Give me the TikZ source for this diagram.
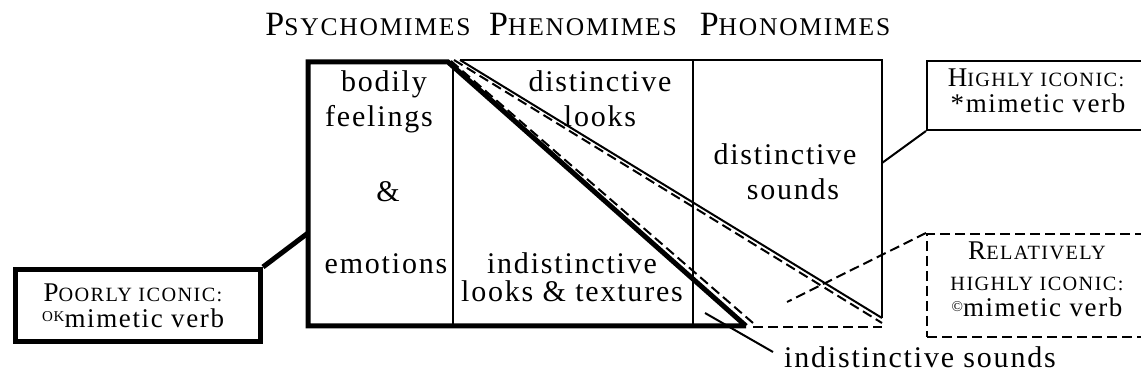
\documentclass[tikz,border=0pt]{standalone}
\usepackage{fontspec}
\setmainfont[LetterSpace=6]{Liberation Serif}
\newfontfamily\scf[Scale=0.75,LetterSpace=7]{Liberation Serif}
\newcommand\fsc[2]{#1{\scf #2}}
\begin{document}
\begin{tikzpicture}[x=0.5pt,y=-0.5pt,
  txt/.style={font=\fontsize{15pt}{18pt}\selectfont, inner sep=0pt, anchor=base},
  boxtxt/.style={font=\fontsize{13.5pt}{16pt}\selectfont, inner sep=0pt, anchor=base},
  hdr/.style={font=\fontsize{17pt}{20pt}\selectfont, inner sep=0pt, anchor=base},
  thick line/.style={line width=2.5pt, line join=miter},
  thin line/.style={line width=1pt},
  dash line/.style={line width=1pt, dash pattern=on 5pt off 2.5pt},
  boxshape/.style={rectangle, inner sep=0pt, anchor=north west}]
\useasboundingbox (0,0) rectangle (1141,383);
\clip (0,0) rectangle (1141,383);

% corner coordinates of the chart
\coordinate (TL) at (308,62);
\coordinate (BL) at (308,326);
\coordinate (O) at (448,62);
\coordinate (A) at (746,326);
\coordinate (C1t) at (453,66);
\coordinate (C1b) at (453,326);
\coordinate (C2t) at (693,60);
\coordinate (C2b) at (693,326);
\coordinate (TT) at (460,60);
\coordinate (TR) at (882,60);
\coordinate (BR) at (882,318);
\coordinate (D1s) at (454,60);
\coordinate (D1e) at (882,323);
\coordinate (D2s) at (451,61);
\coordinate (D2e) at (753,323);
\coordinate (H1) at (753,327);
\coordinate (H2) at (882,327);

% column lines
\draw[thin line] (C1t) -- (C1b);
\draw[thin line] (C2t) -- (C2b);
\draw[thin line] (TT) -- (TR) -- (BR);
% diagonals
\draw[thin line] (TT) -- (BR);
\draw[dash line] (D1s) -- (D1e);
\draw[dash line] (D2s) -- (D2e);
\draw[dash line] (H1) -- (H2);
% thick outline
\draw[thick line] (A) -- (BL) -- (TL) -- (O) -- (A);

% header
\node[hdr] (psy) at (368,36) {\fsc{P}{SYCHOMIMES}};
\node[hdr] (phe) at (583,36) {\fsc{P}{HENOMIMES}};
\node[hdr] (pho) at (795,36) {\fsc{P}{HONOMIMES}};

% column 1
\node[txt] (bod) at (384,92) {bodily};
\node[txt] (fee) at (379,127) {feelings};
\node[txt] (amp) at (388,202) {\&};
\node[txt] (emo) at (386,274) {emotions};
% column 2
\node[txt] (dis2) at (600,92) {distinctive};
\node[txt] (loo) at (600,127) {looks};
\node[txt] (ind) at (572,274) {indistinctive};
\node[txt] (lat) at (572,302) {looks \& textures};
% column 3
\node[txt] (dis3) at (785,165) {distinctive};
\node[txt] (sou) at (793,200) {sounds};

% HIGHLY ICONIC box
\node[boxshape, draw, thin line, minimum width=115pt, minimum height=34.5pt] (hibox) at (926,60) {};
\node[boxtxt] (hi1) at (1036,87) {\fsc{H}{IGHLY ICONIC:}};
\node[boxtxt] (hi2) at (1038,113) {*mimetic verb};
\coordinate (hiend) at (882,163);
\draw[thin line] (hibox.south west) -- (hiend);

% RELATIVELY box
\node[boxshape, draw, dash line, minimum width=115pt, minimum height=51.5pt] (relbox) at (926,233) {};
\node[boxtxt] (re1) at (1037,260) {\fsc{R}{ELATIVELY}};
\node[boxtxt] (re2) at (1037,291) {{\scf HIGHLY ICONIC:}};
\node[boxtxt] (re3) at (1037,317) {\raisebox{0.45ex}{\fontsize{7.5pt}{7.5pt}\selectfont ©}mimetic verb};
\coordinate (relend) at (787,302);
\draw[dash line] (relbox.north west) -- (relend);

% POORLY box
\node[boxshape, draw, thick line, minimum width=122.5pt, minimum height=36pt] (pobox) at (13,267) {};
\node[boxtxt] (po1) at (133,302) {\fsc{P}{OORLY ICONIC:}};
\node[boxtxt] (po2) at (133,328) {\raisebox{0.55ex}{\fontsize{7.5pt}{7.5pt}\selectfont OK}mimetic verb};
\coordinate (poend) at (308,233);
\draw[thick line] (pobox.north east) -- (poend);

% indistinctive sounds
\node[txt] (isnd) at (920,368) {indistinctive sounds};
\coordinate (isa) at (705,313);
\coordinate (isb) at (773,352);
\draw[thin line] (isa) -- (isb);
\end{tikzpicture}
\end{document}
